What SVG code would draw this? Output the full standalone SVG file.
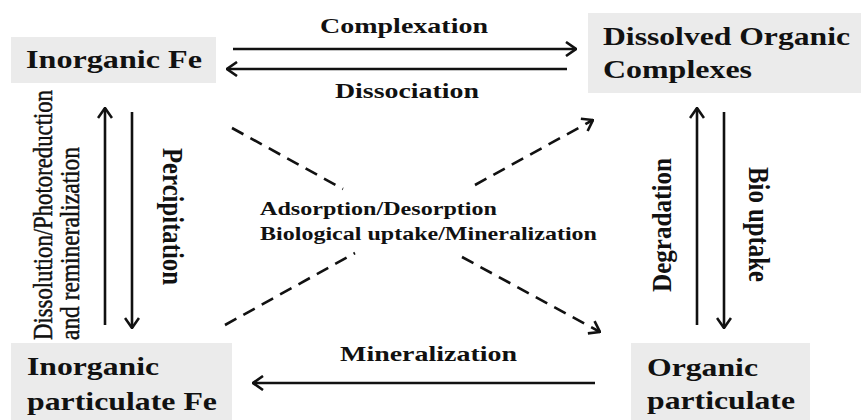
<svg xmlns="http://www.w3.org/2000/svg" width="861" height="420" viewBox="0 0 861 420">
<style>
.box{fill:#ebebeb;stroke:none}
.lbl{font-family:"Liberation Serif","Times New Roman",serif;font-weight:bold;fill:#111}
.big{font-size:25px}
.mid{font-size:22px}
.sm{font-size:19px}
.reg{font-family:"Liberation Serif","Times New Roman",serif;font-weight:normal;font-size:23px;fill:#111;stroke:#111;stroke-width:0.4}
.arr{stroke:#111;stroke-width:2.6;fill:none;marker-end:url(#ah)}
.dash{stroke:#111;stroke-width:2.6;fill:none;stroke-dasharray:13 8}
</style>
<defs>
<marker id="ah" viewBox="0 0 12 16" refX="11" refY="8" markerWidth="12" markerHeight="16" markerUnits="userSpaceOnUse" orient="auto">
<path d="M1,1 L11,8 L1,15" fill="none" stroke="#111" stroke-width="2.6" stroke-dasharray="none"/>
</marker>
</defs>
<rect width="861" height="420" fill="#fff"/>

<g id="inorganic-fe">
<rect class="box" x="11" y="37" width="205" height="46"/>
<text class="lbl big" x="26" y="68" textLength="176" lengthAdjust="spacingAndGlyphs">Inorganic Fe</text>
</g>
<g id="dissolved-organic">
<rect class="box" x="588" y="13" width="273" height="80"/>
<text class="lbl big" x="603" y="45" textLength="247" lengthAdjust="spacingAndGlyphs">Dissolved Organic</text>
<text class="lbl big" x="603" y="78" textLength="149" lengthAdjust="spacingAndGlyphs">Complexes</text>
</g>
<g id="inorganic-particulate">
<rect class="box" x="11" y="343" width="221" height="77"/>
<text class="lbl big" x="27" y="375" textLength="132" lengthAdjust="spacingAndGlyphs">Inorganic</text>
<text class="lbl big" x="27" y="410" textLength="190" lengthAdjust="spacingAndGlyphs">particulate Fe</text>
</g>
<g id="organic-particulate">
<rect class="box" x="631" y="343" width="179" height="77"/>
<text class="lbl big" x="647" y="376" textLength="111" lengthAdjust="spacingAndGlyphs">Organic</text>
<text class="lbl big" x="647" y="409" textLength="148" lengthAdjust="spacingAndGlyphs">particulate</text>
</g>

<g id="connectors">
<line class="arr" x1="233" y1="49" x2="576" y2="49"/>
<line class="arr" x1="567" y1="69" x2="227" y2="69"/>
<line class="arr" x1="105" y1="325" x2="105" y2="108"/>
<line class="arr" x1="132" y1="112" x2="132" y2="328"/>
<line class="arr" x1="697" y1="325" x2="697" y2="108"/>
<line class="arr" x1="724" y1="112" x2="724" y2="328"/>
<line class="arr" x1="595" y1="383" x2="253" y2="383"/>
<line class="dash" x1="232" y1="128" x2="343" y2="189"/>
<line class="dash" x1="462" y1="257" x2="600" y2="332" style="marker-end:url(#ah)"/>
<line class="dash" x1="225" y1="325" x2="355" y2="253"/>
<line class="dash" x1="475" y1="185" x2="593" y2="120" style="marker-end:url(#ah)"/>
</g>

<g id="labels">
<text class="lbl mid" x="320" y="33" textLength="168" lengthAdjust="spacingAndGlyphs">Complexation</text>
<text class="lbl mid" x="335" y="98" textLength="144" lengthAdjust="spacingAndGlyphs">Dissociation</text>
<text class="lbl mid" x="340" y="361" textLength="177" lengthAdjust="spacingAndGlyphs">Mineralization</text>
<text class="lbl sm" x="260" y="215" textLength="237" lengthAdjust="spacingAndGlyphs">Adsorption/Desorption</text>
<text class="lbl sm" x="260" y="240" textLength="337" lengthAdjust="spacingAndGlyphs">Biological uptake/Mineralization</text>
<text class="reg" transform="translate(52,340) scale(1.2,1) rotate(-90)" textLength="250" lengthAdjust="spacingAndGlyphs">Dissolution/Photoreduction</text>
<text class="reg" transform="translate(79,340) scale(1.2,1) rotate(-90)" textLength="193" lengthAdjust="spacingAndGlyphs">and remineralization</text>
<text class="lbl big" transform="translate(163,148) scale(1.2,1) rotate(90)" textLength="137" lengthAdjust="spacingAndGlyphs">Percipitation</text>
<text class="lbl big" transform="translate(671,292) scale(1.1,1) rotate(-90)" textLength="134" lengthAdjust="spacingAndGlyphs">Degradation</text>
<text class="lbl big" transform="translate(749,167) scale(1.15,1) rotate(90)" textLength="115" lengthAdjust="spacingAndGlyphs">Bio uptake</text>
</g>
</svg>
